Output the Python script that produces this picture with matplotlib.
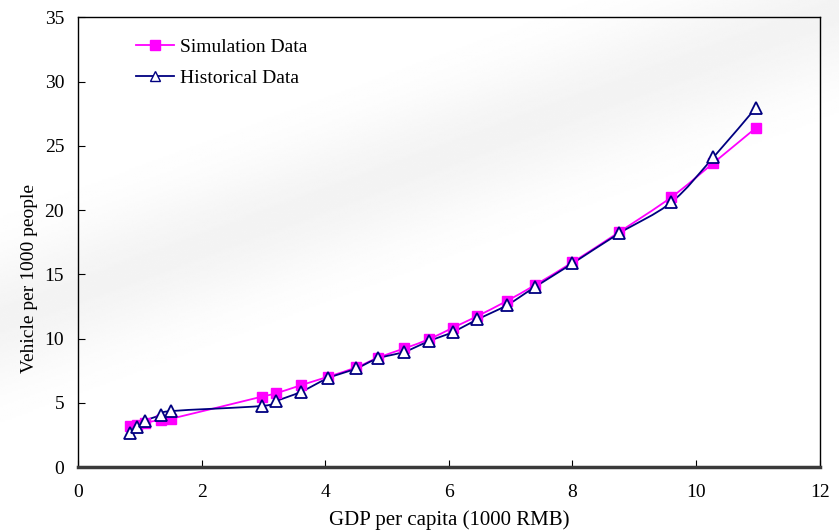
import numpy as np
import matplotlib.pyplot as plt
from matplotlib.path import Path
from matplotlib.patches import PathPatch
from matplotlib.lines import Line2D

plt.rcParams['font.family'] = ['Liberation Serif', 'DejaVu Serif']

# GDP per capita (1000 RMB)
gdp = [0.84, 0.96, 1.08, 1.34, 1.5, 2.97, 3.2, 3.61, 4.04, 4.5, 4.85,
       5.28, 5.68, 6.06, 6.46, 6.94, 7.39, 8.0, 8.76, 9.6, 10.28, 10.97]
# vehicles per 1000 people
simulation = [3.2, 3.25, 3.45, 3.65, 3.75, 5.47, 5.73, 6.37, 7.02, 7.75, 8.5,
              9.23, 9.95, 10.83, 11.74, 12.93, 14.15, 15.93, 18.3, 21.0, 23.66, 26.4]
historical = [2.65, 3.13, 3.6, 4.04, 4.35, 4.75, 5.13, 5.86, 6.9, 7.67, 8.45,
              8.97, 9.8, 10.5, 11.48, 12.6, 14.0, 15.84, 18.2, 20.6, 24.1, 27.97]


def smooth_path(x, y):
    # excel style smoothed line: cubic bezier through every point
    p = np.column_stack([x, y])
    verts = [p[0]]
    codes = [Path.MOVETO]
    n = len(p)
    for i in range(n - 1):
        p0 = p[i - 1] if i > 0 else p[i]
        p3 = p[i + 2] if i + 2 < n else p[i + 1]
        c1 = p[i] + (p[i + 1] - p0) / 6
        c2 = p[i + 1] - (p3 - p[i]) / 6
        verts += [c1, c2, p[i + 1]]
        codes += [Path.CURVE4] * 3
    return Path(verts, codes)


fig = plt.figure(figsize=(8.39, 5.31), dpi=100)

# faint grey diagonal band in the background
gx, gy = np.meshgrid(np.linspace(0, 839, 400), np.linspace(0, 531, 260))
d = (gy - (320 - 0.37 * gx)) / 65
band = 1 - 0.045 * np.exp(-d ** 2)
bg = fig.add_axes([0, 0, 1, 1], zorder=-1)
bg.imshow(band, cmap='gray', vmin=0, vmax=1, aspect='auto',
          extent=[0, 839, 531, 0], interpolation='bilinear')
bg.axis('off')

ax = fig.add_axes([0.093, 0.1205, 0.884, 0.847])
ax.patch.set_alpha(0)

pink = '#ff00ff'
navy = '#000080'

ax.add_patch(PathPatch(smooth_path(gdp, simulation), fill=False, ec=pink, lw=1.3, zorder=2))
ax.add_patch(PathPatch(smooth_path(gdp, historical), fill=False, ec=navy, lw=1.3, zorder=3))
ax.plot(gdp, simulation, ls='none', marker='s', ms=7, color=pink, zorder=4)
ax.plot(gdp, historical, ls='none', marker='^', ms=8, mfc='white', mec=navy,
        mew=1.3, zorder=5)

ax.set_xlim(0, 12)
ax.set_ylim(0, 35)
ax.set_xticks(range(0, 13, 2))
ax.set_yticks(range(0, 36, 5))
ax.tick_params(direction='in', length=5, labelsize=14)
ax.tick_params(axis='x', pad=12)
ax.tick_params(axis='y', pad=10)
for s in ax.spines.values():
    s.set_linewidth(1)
ax.spines['bottom'].set_linewidth(2.5)
ax.spines['bottom'].set_color('#3a3a3a')

ax.set_xlabel('GDP per capita (1000 RMB)', fontsize=15, labelpad=7)
ax.set_ylabel('Vehicle per 1000 people', fontsize=14)
ax.yaxis.set_label_coords(-0.054, 0.42)

handles = [Line2D([], [], color=pink, lw=1.3, marker='s', ms=6.5),
           Line2D([], [], color=navy, lw=1.3, marker='^', ms=7, mfc='white', mec=navy)]
ax.legend(handles, ['Simulation Data', 'Historical Data'], loc='upper left',
          bbox_to_anchor=(0.054, 0.993), frameon=False, fontsize=14,
          handlelength=2.0, handletextpad=0.3, labelspacing=0.7)

fig.savefig('out.png', dpi=100)
